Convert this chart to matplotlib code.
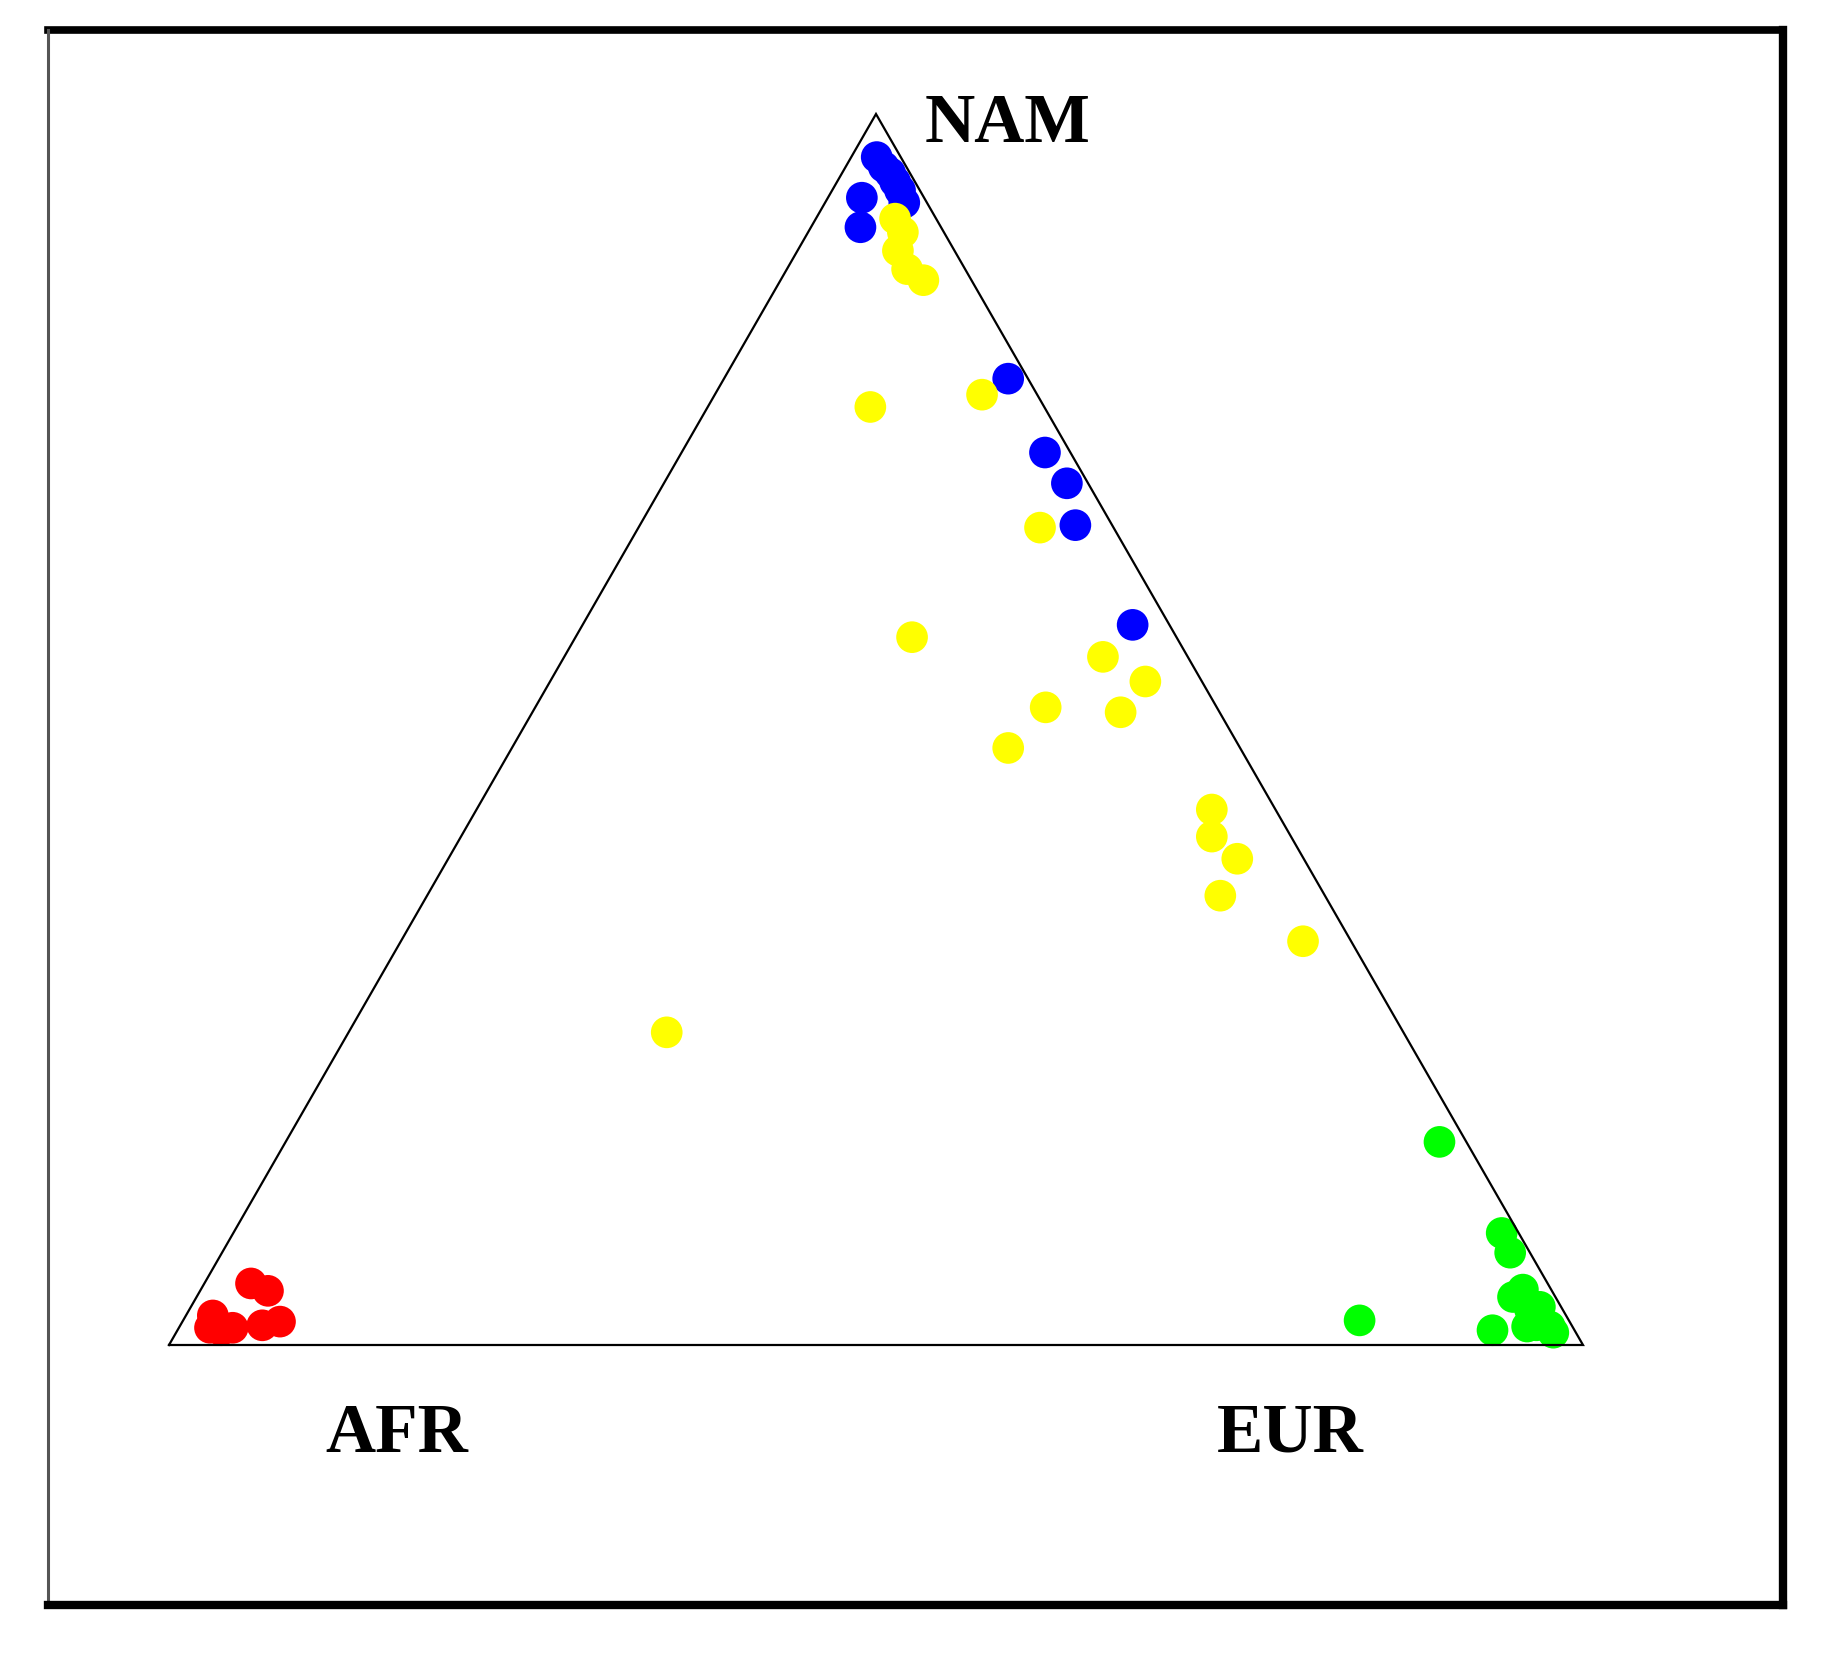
import matplotlib
matplotlib.use("Agg")
import matplotlib.pyplot as plt
from matplotlib.lines import Line2D
import numpy as np

# ternary proportions (AFR, EUR, NAM) per group
blue_afr = [0.017, 0.016, 0.014, 0.014, 0.014, 0.016, 0.044, 0.057, 0.014, 0.018, 0.015, 0.026, 0.026]
blue_eur = [0.018, 0.027, 0.034, 0.041, 0.048, 0.056, 0.024, 0.035, 0.201, 0.257, 0.285, 0.308, 0.389]

yellow_afr = [0.029, 0.029, 0.040, 0.041, 0.034, 0.123, 0.039, 0.052, 0.187, 0.060,
              0.040, 0.121, 0.070, 0.164, 0.045, 0.056, 0.047, 0.074, 0.034, 0.521]
yellow_eur = [0.056, 0.067, 0.071, 0.085, 0.101, 0.115, 0.189, 0.284, 0.238, 0.381,
              0.421, 0.361, 0.416, 0.351, 0.520, 0.531, 0.558, 0.561, 0.638, 0.225]

red_afr = [0.957, 0.917, 0.908, 0.948, 0.912, 0.964, 0.926, 0.957]
red_eur = [0.019, 0.033, 0.048, 0.038, 0.069, 0.022, 0.058, 0.031]

green_afr = [0.019, 0.012, 0.014, 0.020, 0.015, 0.016, 0.032, 0.058, 0.148, 0.016, 0.030,
             0.025, 0.023]
green_eur = [0.816, 0.897, 0.911, 0.935, 0.954, 0.969, 0.953, 0.930, 0.832, 0.974, 0.931,
             0.959, 0.948]

labels = ["AFR", "EUR", "NAM"]

W, H = 1829, 1659
H_TRI = 1231 / 1414  # triangle height in data units


def to_xy(afr, eur):
    afr = np.array(afr)
    eur = np.array(eur)
    nam = 1 - afr - eur
    return eur + nam / 2, nam * H_TRI


fig = plt.figure(figsize=(W / 100, H / 100), dpi=100)
fig.patch.set_facecolor("white")
ax = fig.add_axes([169 / W, 1 - 1345 / H, 1414 / W, 1231 / H])
ax.set_xlim(0, 1)
ax.set_ylim(0, H_TRI)
ax.axis("off")

for afr, eur, col in [(red_afr, red_eur, "#ff0000"),
                      (green_afr, green_eur, "#00ff00"),
                      (blue_afr, blue_eur, "#0000ff"),
                      (yellow_afr, yellow_eur, "#ffff00")]:
    x, y = to_xy(afr, eur)
    ax.scatter(x, y, s=520, color=col, edgecolors="none", clip_on=False, zorder=2)

ax.plot([0, 1, 0.5, 0], [0, 0, H_TRI, 0], color="black", lw=1.6, zorder=3,
        clip_on=False, solid_joinstyle="miter")

font = dict(family="Liberation Serif", weight="bold", fontsize=50, color="black")
fig.text(1008 / W, 1 - 142 / H, labels[2], ha="center", va="baseline", **font)
fig.text(397 / W, 1 - 1452 / H, labels[0], ha="center", va="baseline", **font)
fig.text(1290 / W, 1 - 1452 / H, labels[1], ha="center", va="baseline", **font)

# outer frame
def fline(x0, y0, x1, y1, lw, c="black"):
    fig.add_artist(Line2D([x0 / W, x1 / W], [1 - y0 / H, 1 - y1 / H],
                          lw=lw, color=c, solid_capstyle="projecting"))

fline(48, 30, 1783, 30, 5.5)
fline(48, 30, 48, 1605, 2.2, "#555555")
fline(1783, 30, 1783, 1605, 6.0)
fline(48, 1605, 1783, 1605, 6.0)

fig.savefig("out.png", dpi=100)
